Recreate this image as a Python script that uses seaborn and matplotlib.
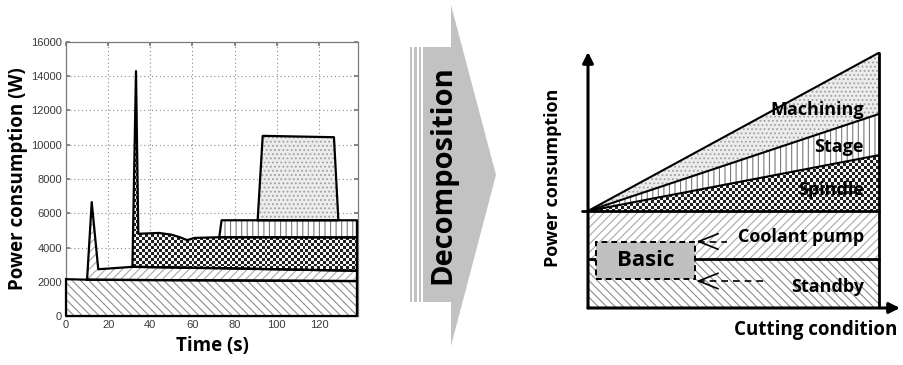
import numpy as np
import matplotlib
matplotlib.use("Agg")
import matplotlib.pyplot as plt
import seaborn as sns
from matplotlib.patches import Polygon, Rectangle

# ---------------- data (left: measured power profile) ----------------
standby_t = [0, 10, 138]
standby_base = [0, 0, 0]
standby_top = [2150, 2120, 2040]

coolant_t = [10, 12.2, 15.3, 31.5, 138]
coolant_base = [2120, 2115, 2112, 2100, 2040]
coolant_top = [2120, 6650, 2730, 2870, 2640]

spindle_t = [31.5, 33.2, 34.3, 44, 50, 54, 57.5, 61, 72.7, 138]
spindle_base = [2870, 2868, 2866, 2850, 2840, 2830, 2825, 2820, 2800, 2640]
spindle_top = [2870, 14300, 4800, 4850, 4750, 4600, 4430, 4560, 4600, 4590]

stage_t = [72.7, 73.8, 138]
stage_base = [4600, 4600, 4590]
stage_top = [4600, 5590, 5590]

machining_t = [90.9, 93.3, 127.1, 129.2]
machining_base = [5590, 5590, 5590, 5590]
machining_top = [5590, 10520, 10440, 5590]

x_ticks = [0, 20, 40, 60, 80, 100, 120]
y_ticks = [0, 2000, 4000, 6000, 8000, 10000, 12000, 14000, 16000]

# ---------------- data (right: conceptual decomposition) ----------------
cond = [0, 1]
standby_c = [1.0, 1.0]
coolant_c = [0.98, 0.98]
spindle_c = [0.0, 1.14]
stage_c = [0.0, 0.84]
machining_c = [0.0, 1.25]
right_labels = ["Machining", "Stage", "Spindle", "Coolant pump", "Standby"]

sns.set_theme(style="white")
plt.rcParams["font.family"] = ["Open Sans", "DejaVu Sans"]
plt.rcParams["hatch.linewidth"] = 0.8
plt.rcParams["text.color"] = "black"
plt.rcParams["axes.labelcolor"] = "black"

W, H = 904, 365
fig = plt.figure(figsize=(W / 100, H / 100), dpi=100)


def fx(px):
    return px / W


def fy(py):
    return 1 - py / H


def checker(ax, coll, xlim, ylim, nx, ny, z):
    arr = np.add.outer(np.arange(ny), np.arange(nx)) % 2
    im = ax.imshow(arr, cmap="gray", vmin=-0.15, vmax=1.05,
                   extent=(xlim[0], xlim[1], ylim[0], ylim[1]),
                   aspect="auto", interpolation="nearest", origin="lower", zorder=z)
    im.set_clip_path(coll.get_paths()[0], transform=ax.transData)


def outline(ax, t, base, top, lw=1.6, z=5):
    xs = list(t) + list(t[::-1]) + [t[0]]
    ys = list(top) + list(base[::-1]) + [top[0]]
    sns.lineplot(x=xs, y=ys, sort=False, estimator=None, color="black",
                 lw=lw, ax=ax, zorder=z, clip_on=False)


# ---------------- left axes ----------------
ax1 = fig.add_axes([fx(66), fy(316), fx(358 - 66), (316 - 42) / H])
XL, YL = (0, 138.5), (0, 16000)
ax1.fill_between(standby_t, standby_base, standby_top, facecolor="white",
                 edgecolor="#8c8c8c", hatch="\\\\\\\\", lw=0, zorder=2)
ax1.fill_between(coolant_t, coolant_base, coolant_top, facecolor="white",
                 edgecolor="#a8a8a8", hatch="////", lw=0, zorder=2)
sp = ax1.fill_between(spindle_t, spindle_base, spindle_top, facecolor="white", lw=0, zorder=2)
checker(ax1, sp, XL, YL, 100, 94, 2.5)
ax1.fill_between(stage_t, stage_base, stage_top, facecolor="white",
                 edgecolor="#7a7a7a", hatch="|||", lw=0, zorder=2)
ax1.fill_between(machining_t, machining_base, machining_top, facecolor="#ececec",
                 edgecolor="#a0a0a0", hatch="....", lw=0, zorder=2)
for t, b, tp in [(standby_t, standby_base, standby_top), (coolant_t, coolant_base, coolant_top),
                 (spindle_t, spindle_base, spindle_top), (stage_t, stage_base, stage_top),
                 (machining_t, machining_base, machining_top)]:
    outline(ax1, t, b, tp)
ax1.set_xlim(*XL)
ax1.set_ylim(*YL)
ax1.set_xticks(x_ticks)
ax1.set_yticks(y_ticks)
ax1.grid(True, linestyle=(0, (1, 2.5)), color="#8a8a8a", lw=0.8)
ax1.set_axisbelow(True)
for s in ax1.spines.values():
    s.set_color("#7a7a7a")
    s.set_linewidth(0.9)
ax1.tick_params(direction="in", length=3, color="#7a7a7a", labelsize=8,
                labelcolor="#3a3a3a", pad=3, left=True, bottom=True, top=True, right=True)
for lab in ax1.get_xticklabels() + ax1.get_yticklabels():
    lab.set_fontfamily("Liberation Sans")
ax1.set_xlabel("Time (s)", fontsize=13.5, fontweight="bold", labelpad=4)
ax1.set_ylabel("Power consumption (W)", fontsize=13.5, fontweight="bold", labelpad=2)

# ---------------- middle arrow ----------------
ax0 = fig.add_axes([0, 0, 1, 1], zorder=-1)
ax0.set_xlim(0, W)
ax0.set_ylim(H, 0)
ax0.axis("off")
arrow_pts = [(423, 47), (451, 47), (451, 5), (496, 175), (451, 346), (451, 302), (423, 302)]
ax0.add_patch(Polygon(arrow_pts, closed=True, facecolor="#c2c2c2", edgecolor="none"))
for x0 in (410, 414.5, 419):
    ax0.add_patch(Rectangle((x0, 47), 2.2, 255, facecolor="#c2c2c2", edgecolor="none"))
ax0.text(443, 175, "Decomposition", rotation=90, ha="center", va="center",
         fontsize=21, fontweight="bold", color="black")

# ---------------- right diagram ----------------
ax2 = fig.add_axes([fx(588), fy(308), fx(900 - 588), (308 - 52) / H])
RX, RY = (0, (900 - 588) / 291), (0, 256 / 49)
lvl1 = np.array(standby_c)
lvl2 = lvl1 + np.array(coolant_c)
lvl3 = lvl2 + np.array(spindle_c)
lvl4 = lvl3 + np.array(stage_c)
lvl5 = lvl4 + np.array(machining_c)
ax2.fill_between(cond, 0, lvl1, facecolor="white", edgecolor="#8c8c8c",
                 hatch="\\\\\\\\", lw=0, zorder=2)
ax2.fill_between(cond, lvl1, lvl2, facecolor="white", edgecolor="#a8a8a8",
                 hatch="////", lw=0, zorder=2)
sp2 = ax2.fill_between(cond, lvl2, lvl3, facecolor="white", lw=0, zorder=2)
checker(ax2, sp2, RX, RY, 104, 85, 2.5)
ax2.fill_between(cond, lvl3, lvl4, facecolor="white", edgecolor="#7a7a7a",
                 hatch="|||", lw=0, zorder=2)
ax2.fill_between(cond, lvl4, lvl5, facecolor="#ececec", edgecolor="#a0a0a0",
                 hatch="....", lw=0, zorder=2)
for lv in (lvl3, lvl4, lvl5):
    sns.lineplot(x=cond, y=lv, color="black", lw=1.5, ax=ax2, zorder=5)
sns.lineplot(x=[-0.02, 1], y=[lvl2[0], lvl2[1]], color="black", lw=2, ax=ax2, zorder=5, clip_on=False)
sns.lineplot(x=[0, 1], y=[lvl1[0], lvl1[1]], color="black", lw=2, ax=ax2, zorder=5)
sns.lineplot(x=[1, 1], y=[0, lvl5[1]], color="black", lw=2, ax=ax2, zorder=5,
             sort=False, estimator=None)
ax2.set_xlim(*RX)
ax2.set_ylim(*RY)
ax2.axis("off")
ax2.annotate("", xy=(RX[1], 0), xytext=(0, 0), xycoords="data",
             arrowprops=dict(arrowstyle="-|>", lw=2.2, color="black", mutation_scale=16,
                             shrinkA=0, shrinkB=0), annotation_clip=False, zorder=6)
ax2.annotate("", xy=(0, RY[1]), xytext=(0, 0), xycoords="data",
             arrowprops=dict(arrowstyle="-|>", lw=2.2, color="black", mutation_scale=16,
                             shrinkA=0, shrinkB=0), annotation_clip=False, zorder=6)

# Basic box
bx0, bx1 = (596 - 588) / 291, (695 - 588) / 291
by0, by1 = (308 - 279) / 49, (308 - 242) / 49
ax2.add_patch(Rectangle((bx0, by0), bx1 - bx0, by1 - by0, facecolor="#c0c0c0",
                        edgecolor="black", lw=1.4, ls=(0, (3, 2)), zorder=7))
ax2.text((bx0 + bx1) / 2, (by0 + by1) / 2, "Basic", ha="center", va="center",
         fontsize=16, fontweight="bold", color="black", zorder=8)
for xs, yv in [((727 - 588) / 291, (308 - 241.5) / 49), ((765 - 588) / 291, (308 - 281) / 49)]:
    sns.lineplot(x=[bx1 + 0.01, xs], y=[yv, yv], color="black", lw=1.2,
                 ax=ax2, zorder=8, linestyle=(0, (4, 3)))
    ax2.annotate("", xy=(bx1 + 0.005, yv), xytext=(bx1 + 0.02, yv),
                 arrowprops=dict(arrowstyle="->,head_length=1.0,head_width=0.4", lw=1.2,
                                 color="black", mutation_scale=14, shrinkA=0, shrinkB=0),
                 zorder=8)

lab_y = [(308 - 110) / 49, (308 - 147) / 49, (308 - 190) / 49, (308 - 237) / 49, (308 - 287) / 49]
lab_x = (864 - 588) / 291
for name, yv in zip(right_labels, lab_y):
    ax2.text(lab_x, yv, name, ha="right", va="center", fontsize=13,
             fontweight="bold", color="black", zorder=9)

fig.text(fx(897), fy(330), "Cutting condition", ha="right", va="center",
         fontsize=13.5, fontweight="bold", color="black")
fig.text(fx(553), fy(178), "Power consumption", rotation=90, ha="center",
         va="center", fontsize=13, fontweight="bold", color="black")

fig.savefig("out.png", dpi=100)
